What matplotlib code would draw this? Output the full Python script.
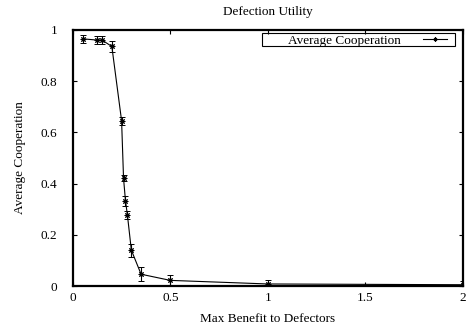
import matplotlib
matplotlib.use("Agg")
import matplotlib.pyplot as plt
from matplotlib.lines import Line2D
from matplotlib.patches import Rectangle

# benefit to defectors vs. average cooperation (with error bars)
benefit = [0.05, 0.125, 0.15, 0.2, 0.25, 0.26, 0.27, 0.28, 0.3, 0.35, 0.5, 1.0, 2.0]
coop = [0.965, 0.96, 0.96, 0.935, 0.645, 0.42, 0.332, 0.276, 0.14, 0.046, 0.022, 0.008, 0.005]
coop_err = [0.015, 0.015, 0.015, 0.02, 0.015, 0.012, 0.02, 0.015, 0.025, 0.028, 0.02, 0.015, 0.015]

x_ticks = [0, 0.5, 1, 1.5, 2]
x_tick_labels = ["0", "0.5", "1", "1.5", "2"]
y_ticks = [0, 0.2, 0.4, 0.6, 0.8, 1]
y_tick_labels = ["0", "0.2", "0.4", "0.6", "0.8", "1"]

plt.rcParams["font.family"] = ["Liberation Serif", "DejaVu Serif"]
plt.rcParams["font.size"] = 9.5

fig = plt.figure(figsize=(4.67, 3.28), dpi=100)
ax = fig.add_axes([0.156, 0.128, 0.835, 0.781])

ax.errorbar(benefit, coop, yerr=coop_err, color="black", lw=0.8,
            marker=(8, 2, 0), ms=4, mew=0.7, elinewidth=0.8, capsize=2,
            capthick=0.8)

ax.set_xlim(0, 2)
ax.set_ylim(0, 1)
ax.set_xticks(x_ticks)
ax.set_xticklabels(x_tick_labels)
ax.set_yticks(y_ticks)
ax.set_yticklabels(y_tick_labels)
ax.tick_params(direction="in", top=True, right=True, length=3, width=0.8,
               labelsize=9.5)
ax.tick_params(axis="x", pad=4)
ax.tick_params(axis="y", pad=11)
for s in ax.spines.values():
    s.set_linewidth(1.6)

ax.set_xlabel("Max Benefit to Defectors")
ax.xaxis.set_label_coords(0.5, -0.107)
ax.set_ylabel("Average Cooperation")
ax.yaxis.set_label_coords(-0.12, 0.5)
fig.text(0.574, 0.963, "Defection Utility", ha="center", va="center")

# gnuplot style key: text first, short sample after, wide box
handle = Line2D([], [], color="black", lw=0.8, marker=(8, 2, 0), ms=3, mew=0.6)
ax.legend([handle], ["Average Cooperation"], loc="center right",
          bbox_to_anchor=(0.977, 0.958), markerfirst=False, frameon=False,
          borderpad=0, handlelength=1.8, handletextpad=1.7)
ax.add_patch(Rectangle((0.485, 0.9375), 0.494, 0.0505, transform=ax.transAxes,
                       fill=False, lw=0.8, ec="black", zorder=5))

fig.savefig("out.png", dpi=100)
